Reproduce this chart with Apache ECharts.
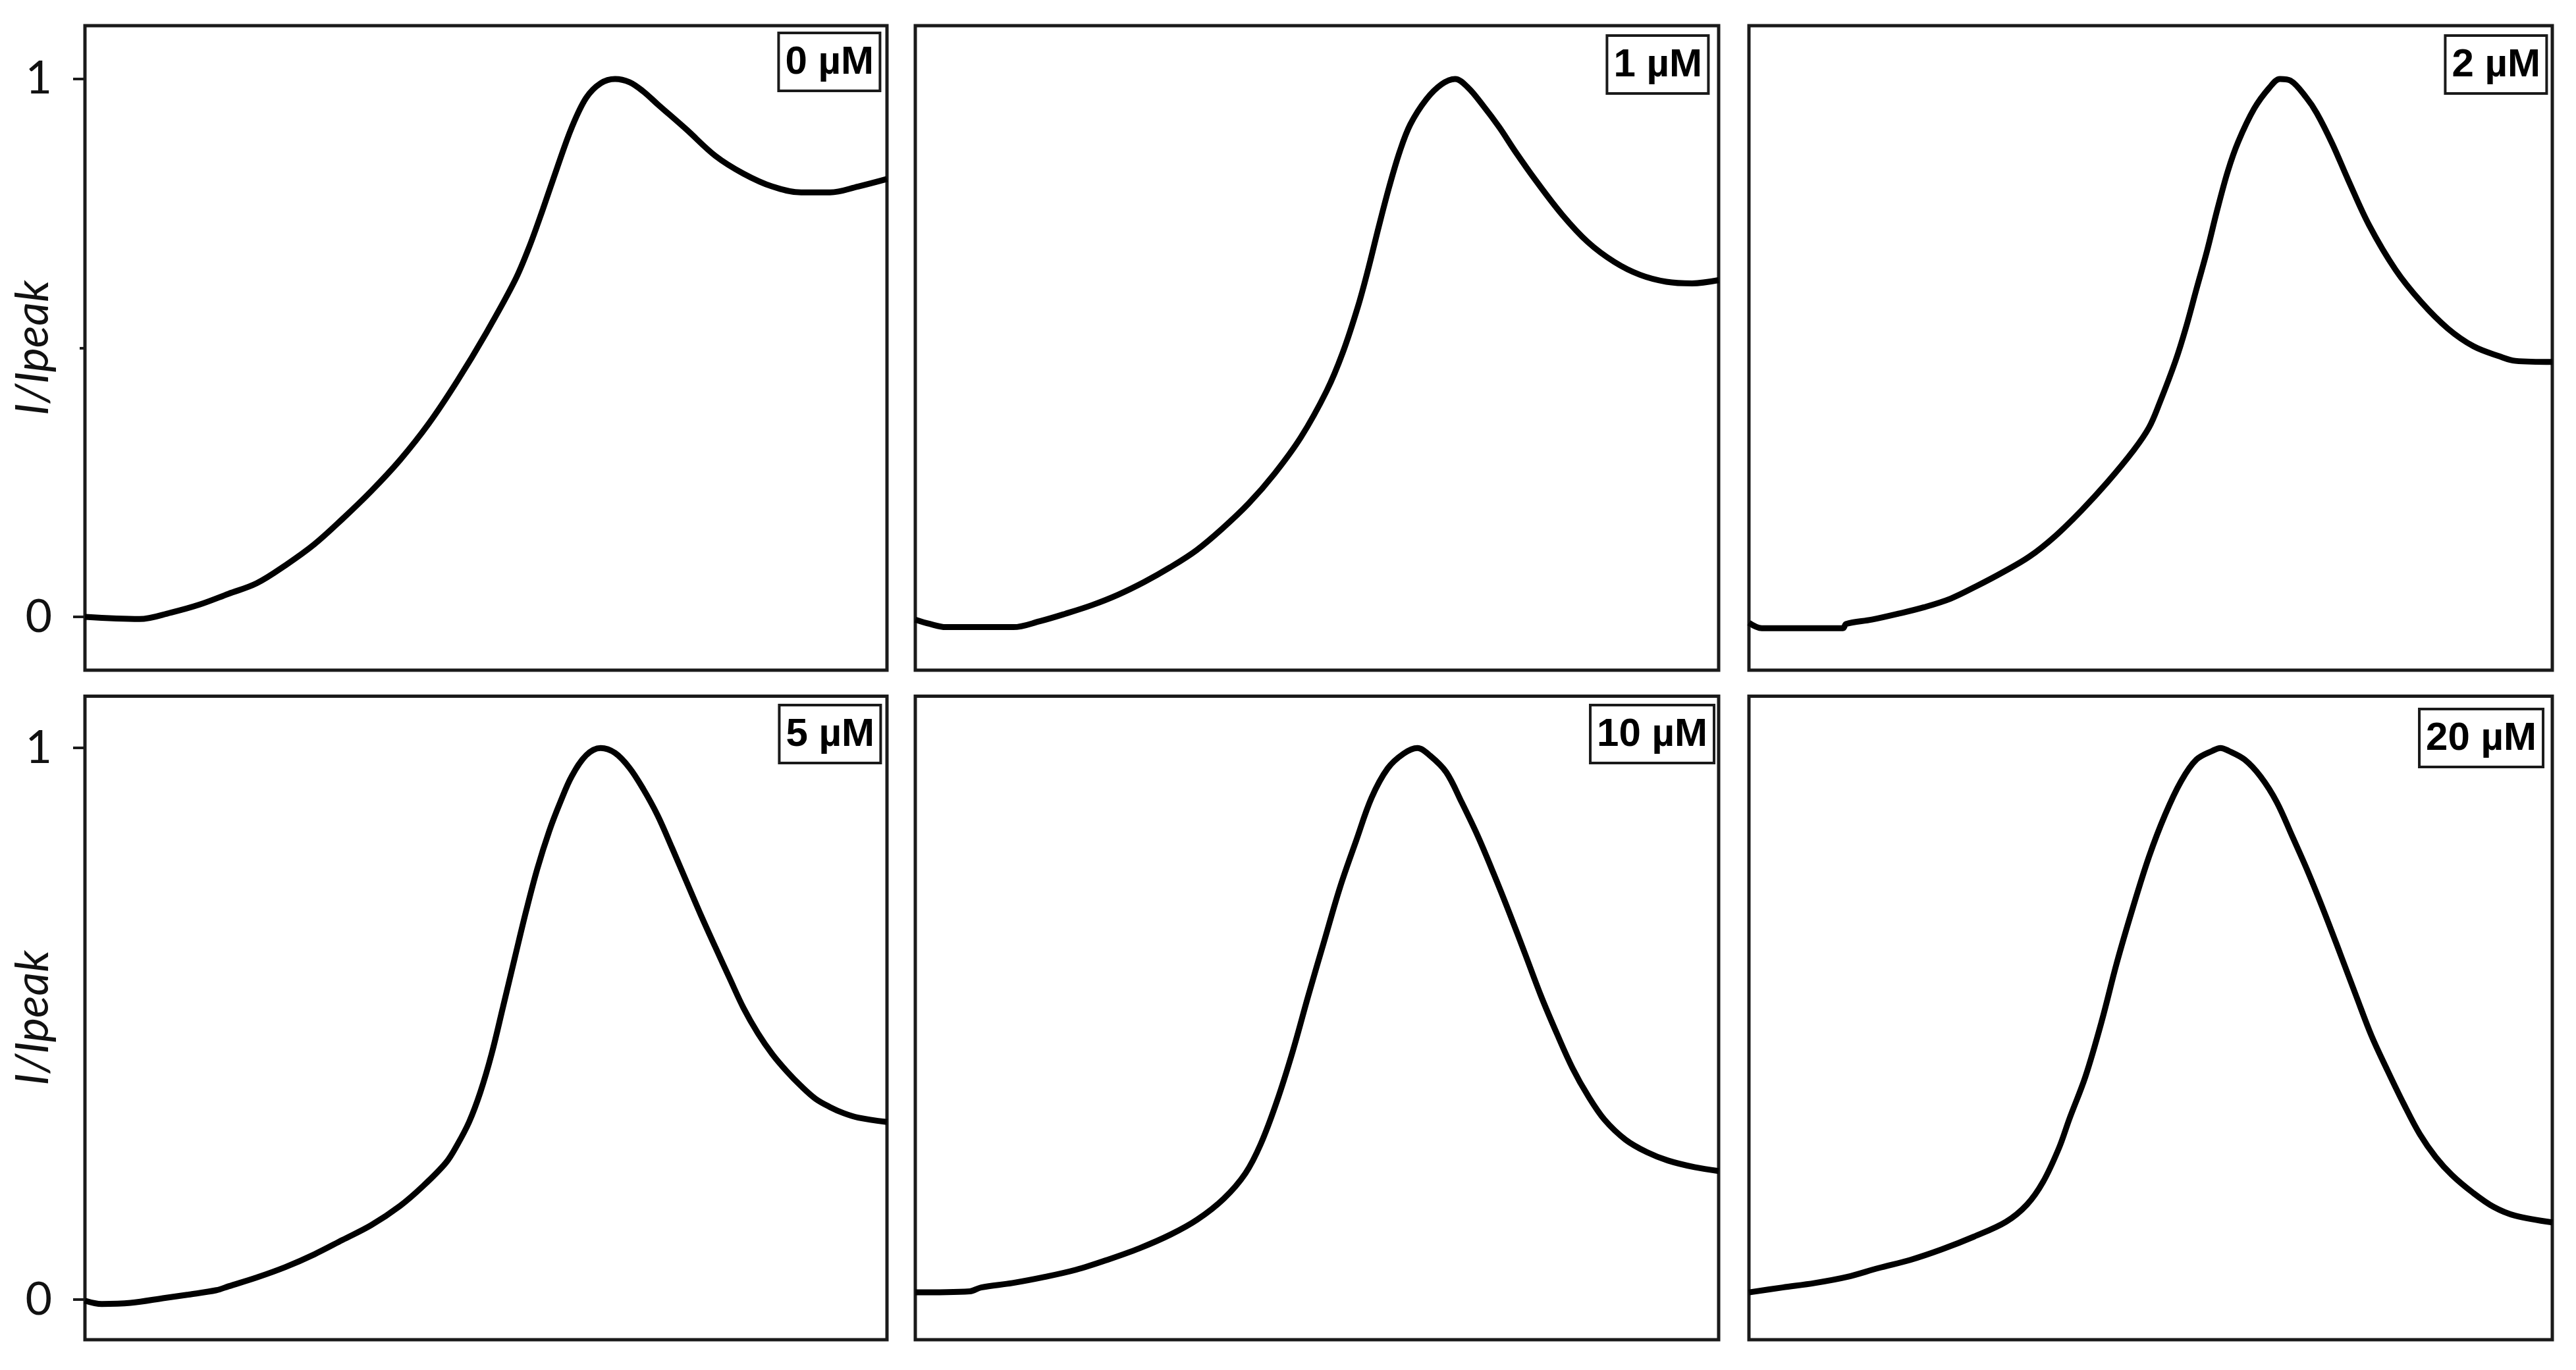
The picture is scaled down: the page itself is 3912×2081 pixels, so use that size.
<!DOCTYPE html>
<html>
<head>
<meta charset="utf-8">
<script src="https://cdn.jsdelivr.net/npm/echarts@6/dist/echarts.min.js"></script>
<style>
html,body{margin:0;padding:0;background:#fff;}
#chart{width:3912px;height:2081px;}
</style>
</head>
<body>
<div id="chart"></div>
<script>
// ---- Data (x: % of scan window, y: I/Ipeak) ----
const panelLabels = ['0 µM', '1 µM', '2 µM', '5 µM', '10 µM', '20 µM'];
const yAxisName = 'I/Ipeak';
const yTickValues = [0, 1];
const yMinorTickValues = [0.5];

const curve0uM = [[0,0],[6.8,-0.004],[10.7,0.008],[14.3,0.023],[17.9,0.043],[21.4,0.0625],[25,0.096],[28.6,0.135],[32.1,0.182],[35.7,0.234],[39.3,0.292],[42.9,0.36],[46.4,0.438],[50,0.527],[53.6,0.625],[55.4,0.688],[57.1,0.758],[58.9,0.836],[60.7,0.91],[62.5,0.965],[64.3,0.992],[66.1,1.0],[67.9,0.994],[69.6,0.977],[71.4,0.953],[75,0.906],[78.6,0.857],[82.1,0.824],[85.7,0.80],[89.3,0.789],[92.9,0.789],[96.4,0.80],[100,0.814]];
const curve1uM = [[0,-0.005],[1.8,-0.013],[3.8,-0.019],[12.2,-0.019],[15.5,-0.008],[18.7,0.006],[22,0.022],[25.2,0.041],[28.5,0.065],[31.7,0.092],[35,0.124],[38.2,0.164],[41.5,0.211],[44.7,0.266],[48,0.334],[51.2,0.42],[53.2,0.491],[55.1,0.577],[56.4,0.648],[57.7,0.726],[59,0.8],[60.3,0.865],[61.6,0.915],[63.6,0.962],[65.5,0.99],[67.2,1.0],[68.8,0.984],[70.7,0.95],[72.7,0.91],[74.6,0.867],[77.2,0.812],[80.5,0.748],[83.7,0.697],[87,0.66],[90.2,0.636],[93.5,0.623],[96.7,0.62],[100,0.626]];
const curve2uM = [[0,-0.011],[1.6,-0.021],[11.7,-0.021],[12.1,-0.013],[15.3,-0.005],[18.6,0.006],[21.8,0.018],[25.1,0.034],[28.3,0.057],[31.6,0.083],[34.9,0.112],[38.1,0.15],[41.4,0.198],[44.6,0.25],[47.9,0.31],[49.8,0.352],[51.1,0.397],[53.1,0.476],[54.4,0.538],[55.7,0.609],[57,0.679],[58.3,0.757],[59.6,0.828],[60.9,0.883],[62.9,0.945],[64.8,0.984],[66.1,1.0],[67.4,0.997],[69.4,0.965],[70.7,0.936],[72.6,0.88],[74.6,0.812],[77.2,0.728],[80.5,0.645],[83.7,0.585],[87,0.536],[90.2,0.503],[93.5,0.484],[95.4,0.476],[100,0.474]];
const curve5uM = [[0,-0.002],[2.1,-0.008],[5.7,-0.006],[10,0.003],[12.9,0.009],[16.4,0.017],[17.9,0.024],[21.4,0.04],[25,0.059],[28.6,0.082],[32.1,0.108],[35.7,0.135],[39.3,0.17],[42.1,0.205],[45,0.248],[46.4,0.28],[47.9,0.322],[49.3,0.376],[50.7,0.445],[52.1,0.529],[53.6,0.62],[55,0.704],[56.4,0.781],[57.9,0.85],[59.3,0.903],[60.7,0.949],[62.5,0.987],[64.3,1.0],[66.1,0.991],[67.9,0.964],[69.6,0.926],[71.4,0.878],[73.2,0.819],[75,0.758],[76.8,0.697],[78.6,0.639],[80.4,0.582],[82.1,0.529],[83.9,0.483],[85.7,0.445],[87.5,0.414],[89.3,0.387],[91.1,0.364],[92.9,0.349],[94.6,0.338],[96.4,0.33],[100,0.322]];
const curve10uM = [[0,0.013],[6.8,0.015],[8.2,0.022],[12.1,0.03],[16.1,0.041],[20,0.054],[23.9,0.072],[27.9,0.093],[31.8,0.118],[35.1,0.145],[38.4,0.183],[41.1,0.229],[43,0.282],[45,0.359],[47,0.451],[48.9,0.55],[50.9,0.65],[52.9,0.749],[54.9,0.833],[56.8,0.91],[58.8,0.963],[60.8,0.99],[62.5,1.0],[64.1,0.986],[66.1,0.956],[68,0.902],[70,0.841],[72,0.772],[73.9,0.703],[75.9,0.627],[77.9,0.55],[79.9,0.481],[81.8,0.42],[83.8,0.368],[85.8,0.326],[88.4,0.29],[91.1,0.267],[93.7,0.252],[97,0.24],[100,0.233]];
const curve20uM = [[0,0.013],[4.2,0.022],[8.2,0.03],[12.2,0.041],[16.1,0.057],[20.1,0.072],[24,0.091],[28,0.114],[32,0.141],[34.6,0.172],[36.6,0.213],[38.6,0.275],[39.9,0.328],[41.9,0.405],[43.9,0.504],[45.8,0.611],[47.8,0.711],[49.8,0.803],[51.8,0.879],[53.8,0.94],[55.7,0.979],[57.7,0.995],[58.7,1.0],[59.7,0.995],[61.7,0.979],[63.7,0.948],[65.7,0.902],[67.6,0.841],[69.6,0.775],[71.6,0.703],[73.6,0.627],[75.6,0.55],[77.5,0.478],[79.5,0.415],[81.5,0.355],[83.5,0.3],[85.5,0.258],[87.5,0.226],[90.1,0.194],[92.7,0.168],[95.4,0.152],[100,0.14]];
const curves = [curve0uM, curve1uM, curve2uM, curve5uM, curve10uM, curve20uM];

// ---- Layout ----
const W = 3912;
const colLeft = [129, 1390, 2656];
const colWidth = [1218, 1220, 1220];
const rowTop = [39, 1057.5];
const rowHeight = [979, 977.5];
const rowYMin = [-0.099, -0.0728];
const rowYMax = [1.099, 1.094];
const boxRight = [1337, 2595, 3868, 1338, 2603, 3862];
const boxTop = [50, 54, 54, 1071, 1071, 1077];

const grids = [], xAxes = [], yAxes = [], series = [], titles = [];
for (let i = 0; i < 6; i++) {
  const r = Math.floor(i / 3), c = i % 3;
  grids.push({
    left: colLeft[c], top: rowTop[r], width: colWidth[c], height: rowHeight[r],
    show: true, borderColor: '#1a1a1a', borderWidth: 5, backgroundColor: 'transparent',
    containLabel: false, outerBoundsMode: 'none'
  });
  xAxes.push({ type: 'value', gridIndex: i, min: 0, max: 100, show: false });
  const showLabels = c === 0;
  yAxes.push({
    type: 'value', gridIndex: i, position: 'left', min: rowYMin[r], max: rowYMax[r],
    name: showLabels ? yAxisName : '',
    nameLocation: 'middle', nameRotate: 90, nameGap: 44, nameMoveOverlap: false,
    nameTextStyle: { fontFamily: 'Lato', fontStyle: 'italic', fontSize: 70, color: '#111' },
    axisLine: { show: false },
    splitLine: { show: false },
    axisTick: { show: showLabels, inside: false, length: 18, lineStyle: { color: '#1a1a1a', width: 4 }, customValues: yTickValues },
    axisLabel: { show: showLabels, margin: 50, fontFamily: 'Lato', fontSize: 70, color: '#111',
      customValues: yTickValues, formatter: v => String(Math.round(v)) }
  });
  series.push({
    type: 'line', xAxisIndex: i, yAxisIndex: i, data: curves[i],
    showSymbol: false, smooth: 0.35, lineStyle: { color: '#000', width: 9 }, silent: true
  });
  titles.push({
    text: panelLabels[i], right: W - boxRight[i], top: boxTop[i],
    padding: [14, 10, 12, 10], borderColor: '#1a1a1a', borderWidth: 4, backgroundColor: '#fff',
    textStyle: { fontFamily: 'Liberation Sans', fontWeight: 'bold', fontSize: 60, color: '#000', lineHeight: 62 }
  });
}
// small tick at 0.5 on the top-left panel
yAxes.push({
  type: 'value', gridIndex: 0, position: 'left', min: rowYMin[0], max: rowYMax[0],
  axisLine: { show: false }, splitLine: { show: false }, axisLabel: { show: false },
  axisTick: { show: true, length: 8, lineStyle: { color: '#1a1a1a', width: 4 }, customValues: yMinorTickValues }
});

const chart = echarts.init(document.getElementById('chart'), null, { renderer: 'canvas' });
chart.setOption({
  animation: false,
  backgroundColor: '#fff',
  title: titles,
  grid: grids,
  xAxis: xAxes,
  yAxis: yAxes,
  series: series
});
</script>
</body>
</html>
